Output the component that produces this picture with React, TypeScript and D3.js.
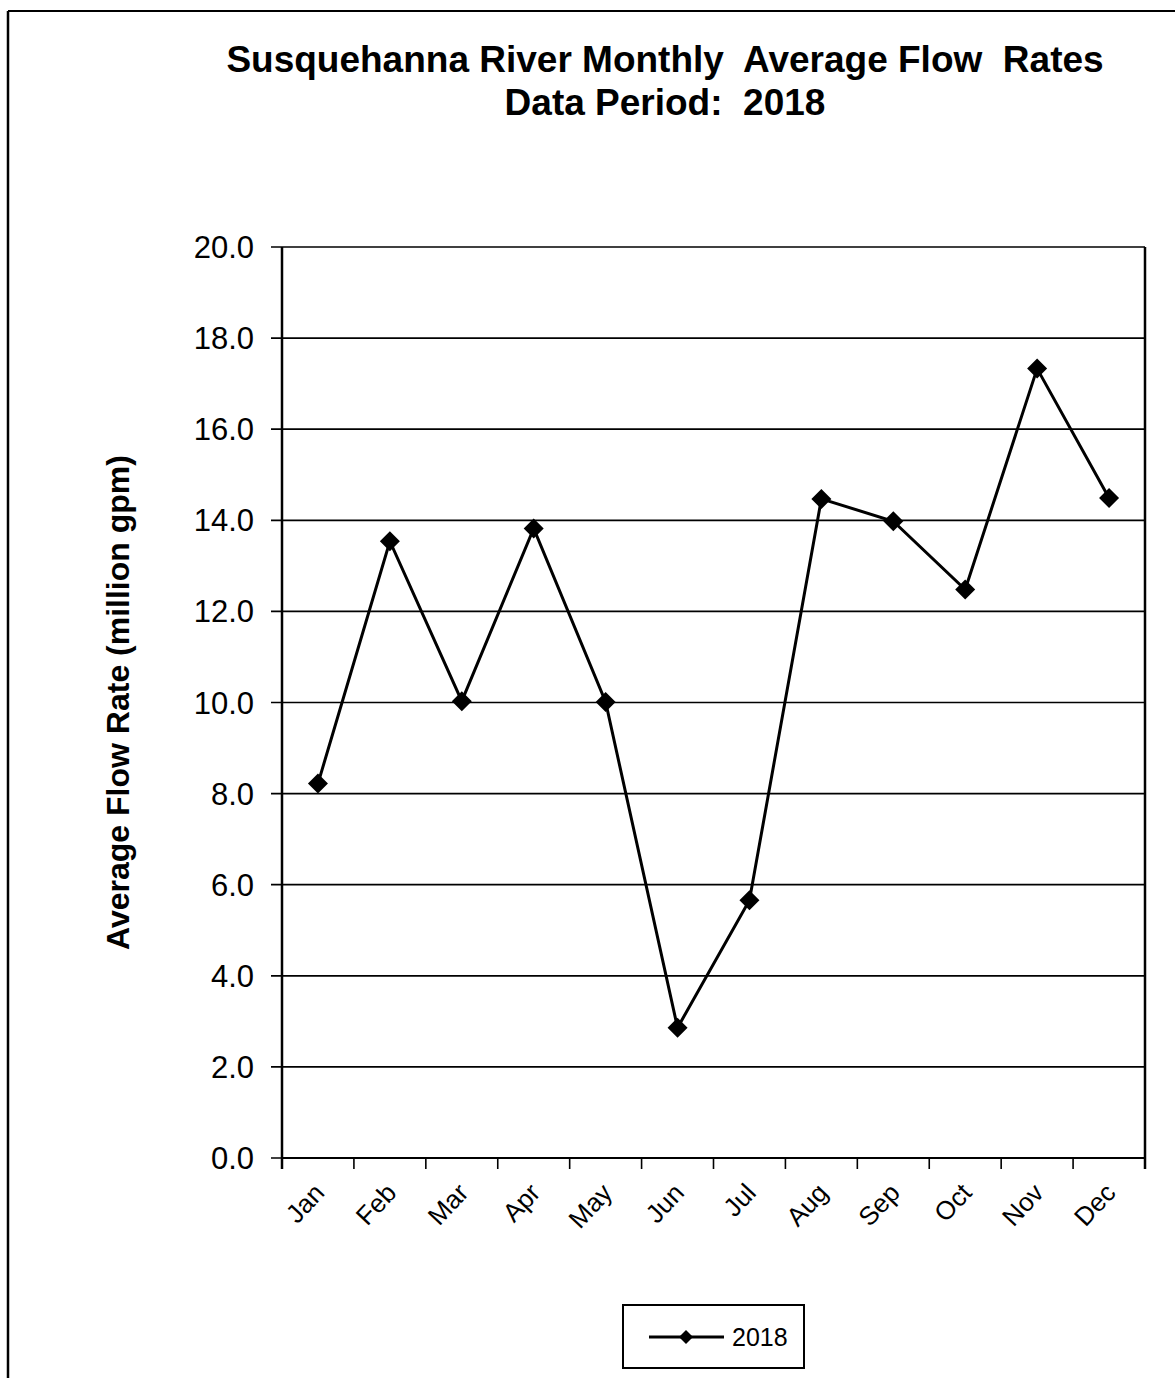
import React from "react";
import * as d3 from "d3";

const months = ["Jan", "Feb", "Mar", "Apr", "May", "Jun", "Jul", "Aug", "Sep", "Oct", "Nov", "Dec"];
const flow2018 = [8.22, 13.54, 10.03, 13.82, 10.01, 2.86, 5.66, 14.47, 13.98, 12.48, 17.33, 14.49];
const yTicks = [0, 2, 4, 6, 8, 10, 12, 14, 16, 18, 20];
const titleLines = ["Susquehanna River Monthly  Average Flow  Rates", "Data Period:  2018"];
const yLabel = "Average Flow Rate (million gpm)";
const seriesName = "2018";

const W = 1175;
const H = 1378;
const plot = { left: 282, right: 1145, top: 247, bottom: 1158 };
const FONT = "'Liberation Sans', Arial, sans-serif";

function diamond(cx: number, cy: number, r: number) {
  return `M${cx},${cy - r}L${cx + r},${cy}L${cx},${cy + r}L${cx - r},${cy}Z`;
}

export default function App() {
  const x = d3.scaleBand<string>().domain(months).range([plot.left, plot.right]);
  const y = d3.scaleLinear().domain([0, 20]).range([plot.bottom, plot.top]);
  const cx = (m: string) => (x(m) as number) + x.bandwidth() / 2;
  const line = d3
    .line<number>()
    .x((_, i) => cx(months[i]))
    .y((v) => y(v));
  const boundaries = months.map((m) => x(m) as number).concat([plot.right]);

  return (
    <svg
      width={W}
      height={H}
      style={{ position: "absolute", left: 0, top: 0, background: "#fff" }}
      fontFamily={FONT}
    >
      <rect x={0} y={0} width={W} height={H} fill="#fff" />
      {/* outer frame */}
      <line x1={8} y1={11} x2={W} y2={11} stroke="#000" strokeWidth={2} />
      <line x1={8} y1={11} x2={8} y2={H} stroke="#000" strokeWidth={2.5} />

      {/* title */}
      <text x={665} y={72} textAnchor="middle" fontSize={37} fontWeight="bold" style={{ whiteSpace: "pre" }}>
        {titleLines[0]}
      </text>
      <text x={665} y={115} textAnchor="middle" fontSize={37} fontWeight="bold" style={{ whiteSpace: "pre" }}>
        {titleLines[1]}
      </text>

      {/* gridlines */}
      {yTicks.map((t) => (
        <line key={"g" + t} x1={plot.left - 11} x2={plot.right} y1={y(t)} y2={y(t)} stroke="#000" strokeWidth={t === 20 ? 2 : 1.7} strokeOpacity={t === 20 ? 0.75 : 1} />
      ))}
      {/* plot borders */}
      <line x1={plot.left} x2={plot.left} y1={plot.top} y2={plot.bottom + 11} stroke="#000" strokeWidth={2.5} />
      <line x1={plot.right} x2={plot.right} y1={plot.top} y2={plot.bottom + 11} stroke="#000" strokeWidth={2.5} />
      <line x1={plot.left} x2={plot.right} y1={plot.bottom} y2={plot.bottom} stroke="#000" strokeWidth={2.2} />

      {/* y tick labels */}
      {yTicks.map((t) => (
        <text key={"yl" + t} x={254} y={y(t) + 11} textAnchor="end" fontSize={31}>
          {t.toFixed(1)}
        </text>
      ))}

      {/* x ticks */}
      {boundaries.map((b, i) => (
        <line key={"xt" + i} x1={b} x2={b} y1={plot.bottom} y2={plot.bottom + 11} stroke="#000" strokeWidth={1.6} />
      ))}
      {/* x labels */}
      {months.map((m) => (
        <text
          key={"xl" + m}
          transform={`translate(${cx(m) + 8},${plot.bottom + 36}) rotate(-47)`}
          textAnchor="end"
          fontSize={26}
        >
          {m}
        </text>
      ))}

      {/* y axis label */}
      <text
        transform={`translate(129,${(plot.top + plot.bottom) / 2}) rotate(-90)`}
        textAnchor="middle"
        fontSize={32}
        fontWeight="bold"
      >
        {yLabel}
      </text>

      {/* series */}
      <path d={line(flow2018) || ""} fill="none" stroke="#000" strokeWidth={3} strokeLinejoin="miter" />
      {flow2018.map((v, i) => (
        <path key={"m" + i} d={diamond(cx(months[i]), y(v), 10)} fill="#000" />
      ))}

      {/* legend */}
      <rect x={623} y={1305} width={181} height={63} fill="#fff" stroke="#000" strokeWidth={2} />
      <line x1={649} x2={724} y1={1337} y2={1337} stroke="#000" strokeWidth={3} />
      <path d={diamond(686, 1337, 7)} fill="#000" />
      <text x={732} y={1346} fontSize={25}>
        {seriesName}
      </text>
    </svg>
  );
}
